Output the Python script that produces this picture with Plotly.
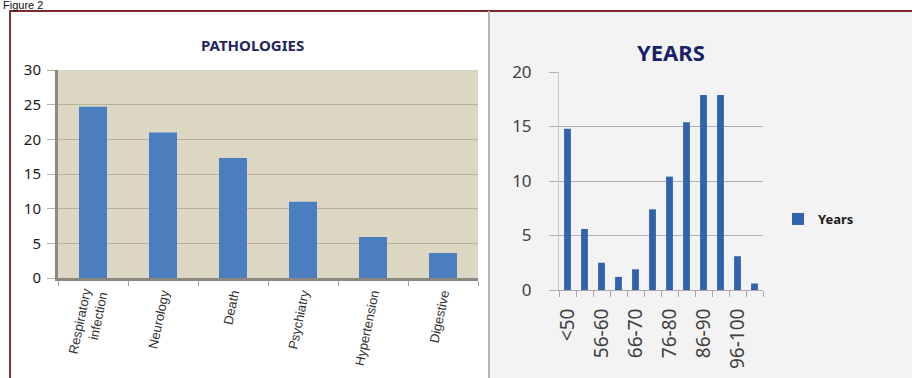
import plotly.graph_objects as go

# Data
pathologies = ['Respiratory<br>infection', 'Neurology', 'Death', 'Psychiatry', 'Hypertension', 'Digestive']
pathology_values = [24.7, 21.0, 17.3, 11.0, 5.9, 3.6]

age_groups = ['<50', '51-55', '56-60', '61-65', '66-70', '71-75', '76-80', '81-85', '86-90', '91-95', '96-100', '>100']
age_values = [14.8, 5.6, 2.5, 1.2, 1.9, 7.4, 10.4, 15.4, 17.9, 17.9, 3.1, 0.6]
# only every other age label is printed on the axis
age_ticktext = [g if i % 2 == 0 else '' for i, g in enumerate(age_groups)]

W, H = 912, 378

def px_x(v):
    return v / W

def px_y(v):
    return 1 - v / H

fig = go.Figure()

fig.add_trace(go.Bar(
    x=pathologies, y=pathology_values,
    marker=dict(color='#4a7ebf', line=dict(width=0)),
    xaxis='x', yaxis='y', showlegend=False,
))

fig.add_trace(go.Bar(
    x=age_groups, y=age_values, name='Years',
    marker=dict(color='#2f63ab', line=dict(width=0)),
    xaxis='x2', yaxis='y2', showlegend=True,
))

shapes = [
    # left panel and right panel backgrounds
    dict(type='rect', xref='paper', yref='paper', x0=px_x(10), x1=px_x(489), y0=0, y1=px_y(11),
         fillcolor='white', line=dict(width=0), layer='below'),
    dict(type='rect', xref='paper', yref='paper', x0=px_x(489), x1=1, y0=0, y1=px_y(11),
         fillcolor='#f3f3f3', line=dict(width=0), layer='below'),
    # beige plot area of the left chart
    dict(type='rect', xref='x domain', yref='y domain', x0=0, x1=1, y0=0, y1=1,
         fillcolor='#dcd7c2', line=dict(width=0), layer='below'),
    # frame lines
    dict(type='line', xref='paper', yref='paper', x0=px_x(9), x1=1, y0=px_y(11), y1=px_y(11),
         line=dict(color='#7a2b2e', width=2)),
    dict(type='line', xref='paper', yref='paper', x0=px_x(10), x1=px_x(10), y0=0, y1=px_y(11),
         line=dict(color='#7a3b3b', width=2)),
    dict(type='line', xref='paper', yref='paper', x0=px_x(489), x1=px_x(489), y0=0, y1=px_y(11),
         line=dict(color='#b4b4b4', width=2)),
]

annotations = [
    dict(text='Figure 2', xref='paper', yref='paper', x=px_x(2), y=1, xanchor='left', yanchor='top',
         showarrow=False, borderpad=0, yshift=2,
         font=dict(family='Liberation Sans', size=11, color='#111111')),
    dict(text='<b>PATHOLOGIES</b>', xref='paper', yref='paper', x=px_x(252), y=px_y(45),
         xanchor='center', yanchor='middle', showarrow=False,
         font=dict(family='Noto Sans', size=15, color='#1f2560')),
    dict(text='<b>YEARS</b>', xref='paper', yref='paper', x=px_x(671), y=px_y(52),
         xanchor='center', yanchor='middle', showarrow=False,
         font=dict(family='Noto Sans', size=22, color='#1a1f6a')),
]

fig.update_layout(
    width=W, height=H,
    margin=dict(l=0, r=0, t=0, b=0, autoexpand=False),
    paper_bgcolor='white',
    plot_bgcolor='rgba(0,0,0,0)',
    bargap=0.6,
    shapes=shapes,
    annotations=annotations,
    xaxis=dict(
        domain=[px_x(58), px_x(478)], anchor='y', automargin=False,
        tickangle=-78, tickfont=dict(family='Liberation Sans', size=13, color='#333333'),
        showline=True, linecolor='#8c8a7e', linewidth=3,
        ticks='outside', tickson='boundaries', ticklen=5, tickcolor='#a0a0a0',
        showgrid=False,
    ),
    yaxis=dict(
        domain=[1 - 278 / H, 1 - 70 / H], anchor='x', automargin=False,
        range=[0, 30], dtick=5,
        tickfont=dict(family='Noto Sans', size=15, color='#1a1a1a'),
        showline=True, linecolor='#8c8a7e', linewidth=3,
        ticks='outside', ticklen=8, tickcolor='#b5b09c', ticklabelstandoff=3,
        gridcolor='#b8b29c', gridwidth=1, zeroline=False,
    ),
    xaxis2=dict(
        domain=[px_x(559), px_x(763)], anchor='y2', automargin=False,
        tickmode='array', tickvals=age_groups, ticktext=age_ticktext,
        tickangle=-90, tickfont=dict(family='Noto Sans', size=19, color='#404040'),
        showline=True, linecolor='#a8a8a8', linewidth=1,
        ticks='outside', tickson='boundaries', ticklen=6, tickcolor='#a8a8a8',
        ticklabelstandoff=10,
        showgrid=False,
    ),
    yaxis2=dict(
        domain=[1 - 290 / H, 1 - 72 / H], anchor='x2', automargin=False,
        range=[0, 20], dtick=5,
        tickfont=dict(family='Noto Sans', size=17, color='#404040'),
        showline=True, linecolor='#c8c8c8', linewidth=1,
        ticks='outside', ticklen=9, tickcolor='#b0b0b0', ticklabelstandoff=14,
        gridcolor='#b0b0b0', gridwidth=1, zeroline=False,
    ),
    legend=dict(
        x=px_x(778), y=px_y(219), xanchor='left', yanchor='middle',
        bgcolor='rgba(0,0,0,0)',
        font=dict(family='Noto Sans', size=13, color='#1a1a1a', weight='bold'),
        itemwidth=30,
    ),
)

# drop the browser's default 8px body margin so the figure fills the window
fig.write_html('out.html', config={'displayModeBar': False},
               post_script="document.body.style.margin='0';document.body.style.overflow='hidden';")
